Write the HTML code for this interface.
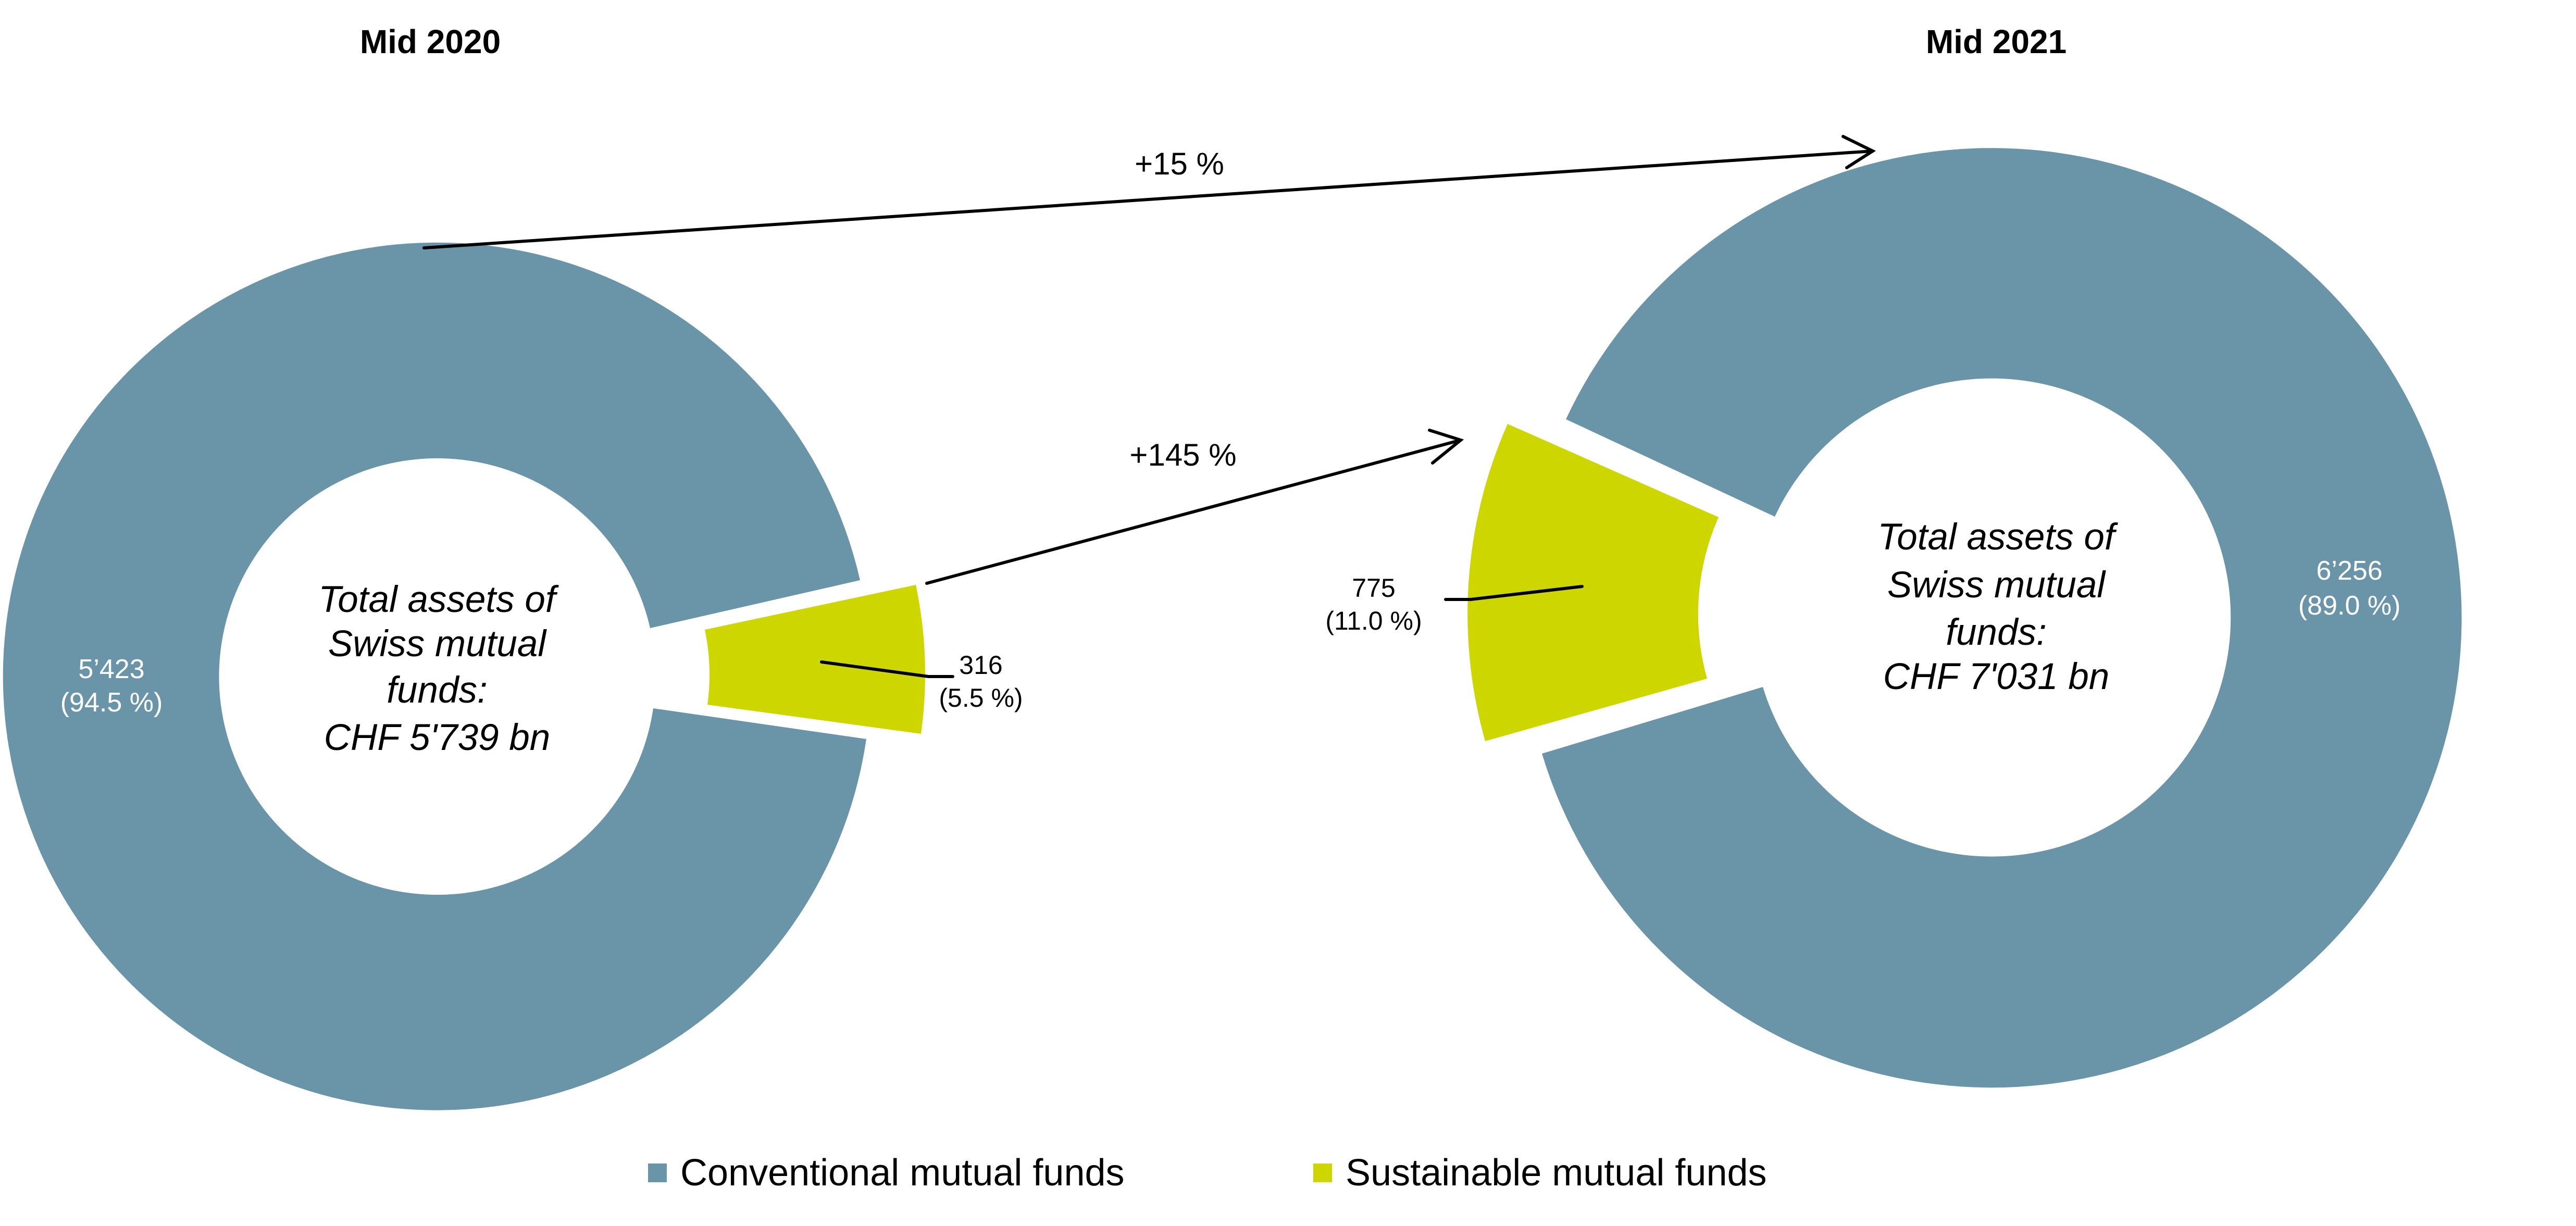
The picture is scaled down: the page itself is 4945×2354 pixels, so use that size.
<!DOCTYPE html>
<html><head><meta charset="utf-8"><style>
html,body{margin:0;padding:0;background:#fff;}
svg{display:block;}
text{font-family:"Liberation Sans",sans-serif;}
</style></head><body>
<svg width="4945" height="2354" viewBox="0 0 4945 2354" xmlns="http://www.w3.org/2000/svg">
<rect width="4945" height="2354" fill="#fff"/>
<path d="M1651,1114 A833,833 0 1 0 1663,1419 L1254,1360 A419,419 0 1 1 1248,1206 Z" fill="#6A95A8"/>
<path d="M1353,1209 L1758,1123 A833,833 0 0 1 1768,1409 L1358,1353 A419,419 0 0 0 1353,1209 Z" fill="#CED600"/>
<path d="M3006,805 A902,902 0 1 1 2960,1447 L3384,1319 A459,459 0 1 0 3407,992 Z" fill="#6A95A8"/>
<path d="M3299,993 L2894,814 A902,902 0 0 0 2851,1423 L3277,1303 A459,459 0 0 1 3299,993 Z" fill="#CED600"/>
<g stroke="#000" stroke-width="6" fill="none" stroke-linecap="round">
<line x1="814" y1="476" x2="3595" y2="290"/>
<polyline points="3538,262 3595,290 3545,322"/>
<line x1="1779" y1="1120" x2="2804" y2="845"/>
<polyline points="2744,826 2804,845 2750,889"/>
<polyline points="1577,1271 1782,1299 1829,1299"/>
<polyline points="3037,1126 2823,1151 2775,1151"/>
</g>
<g font-size="60" text-anchor="middle" fill="#000">
<text x="2264" y="335">+15 %</text>
<text x="2271" y="894">+145 %</text>
<text x="1883" y="1294" font-size="50">316</text>
<text x="1883" y="1357" font-size="50">(5.5 %)</text>
<text x="2637" y="1146" font-size="50">775</text>
<text x="2637" y="1209" font-size="50">(11.0 %)</text>
</g>
<g font-size="52" text-anchor="middle" fill="#fff">
<text x="214" y="1302">5’423</text>
<text x="214" y="1366">(94.5 %)</text>
<text x="4510" y="1113">6’256</text>
<text x="4510" y="1180">(89.0 %)</text>
</g>
<g font-size="71" font-style="italic" text-anchor="middle" fill="#000">
<text x="839" y="1175">Total assets of</text>
<text x="839" y="1260">Swiss mutual</text>
<text x="839" y="1349">funds:</text>
<text x="839" y="1440">CHF 5'739 bn</text>
<text x="3832" y="1055">Total assets of</text>
<text x="3832" y="1147">Swiss mutual</text>
<text x="3832" y="1238">funds:</text>
<text x="3832" y="1323">CHF 7'031 bn</text>
</g>
<g font-size="64" font-weight="bold" text-anchor="middle" fill="#000">
<text x="826" y="102">Mid 2020</text>
<text x="3832" y="102">Mid 2021</text>
</g>
<rect x="1244" y="2234" width="36" height="36" fill="#6A95A8"/>
<text x="1306" y="2276" font-size="72" fill="#000">Conventional mutual funds</text>
<rect x="2521" y="2234" width="36" height="36" fill="#CED600"/>
<text x="2583" y="2276" font-size="72" fill="#000">Sustainable mutual funds</text>
</svg>
</body></html>
